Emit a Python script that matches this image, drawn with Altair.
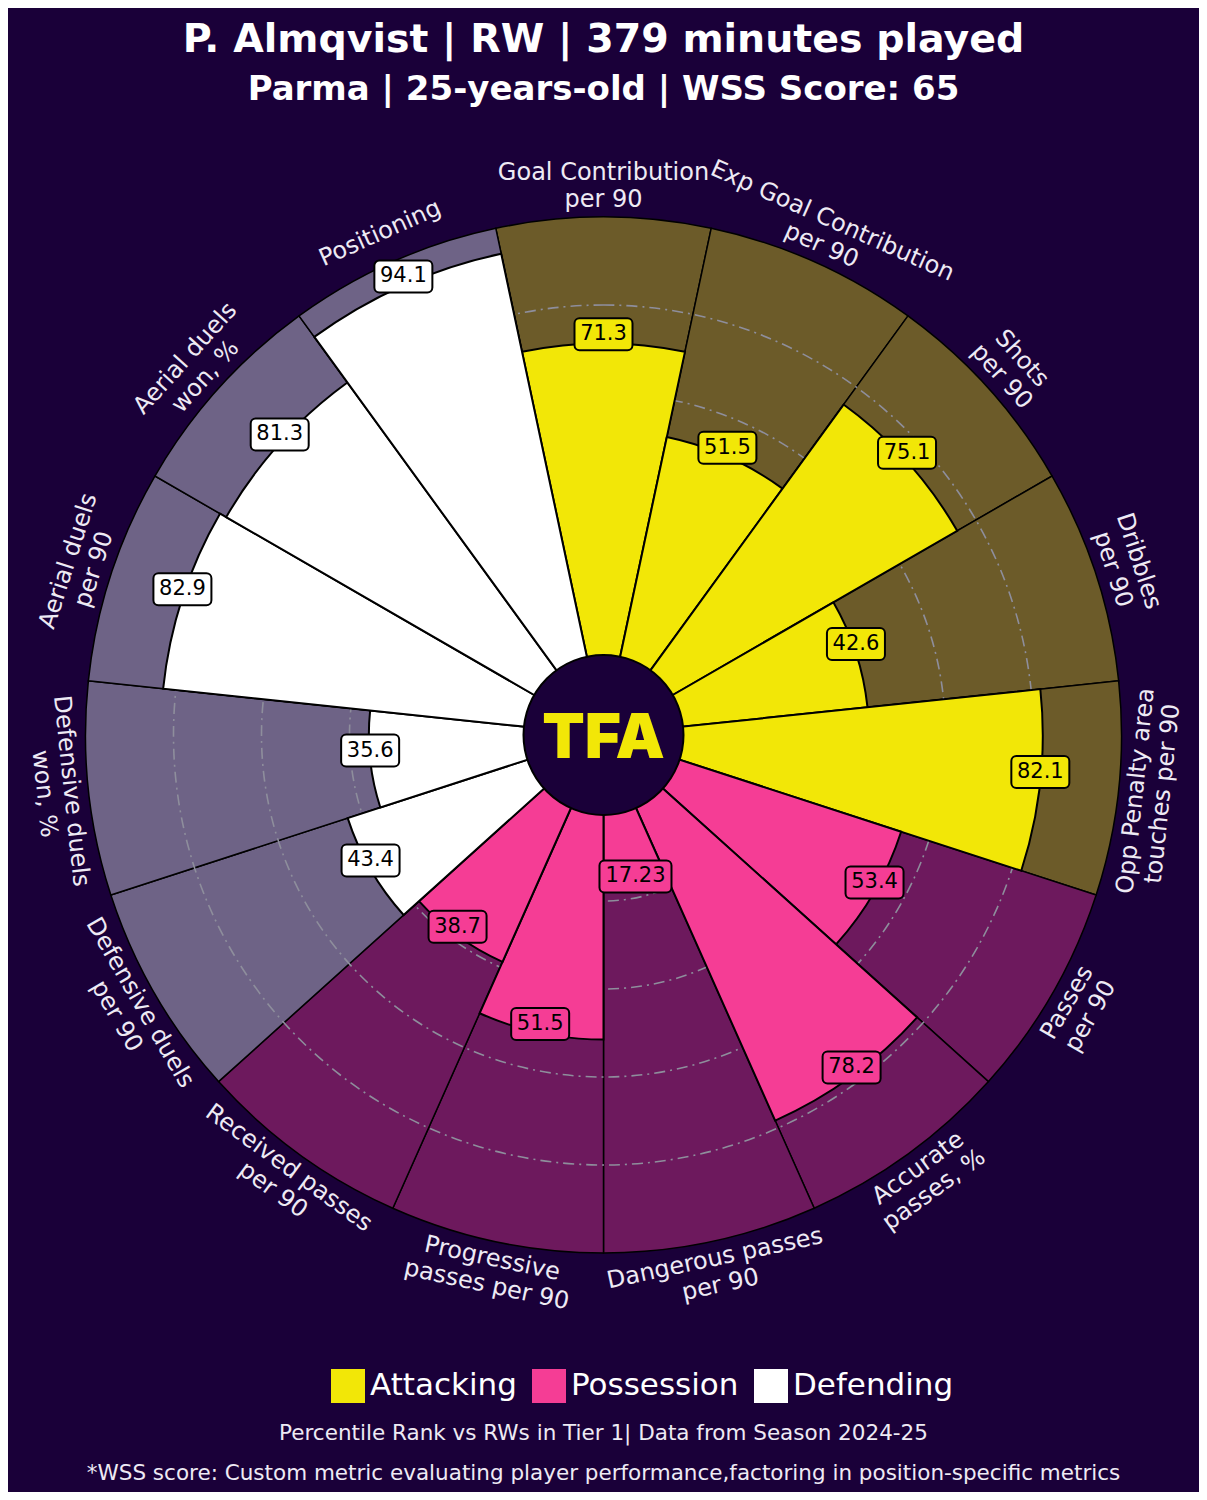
import math
import altair as alt
import pandas as pd

# ---------------- data ----------------
title_text = "P. Almqvist | RW | 379 minutes played"
subtitle_text = "Parma | 25-years-old | WSS Score: 65"
note1 = "Percentile Rank vs RWs in Tier 1| Data from Season 2024-25"
note2 = "*WSS score: Custom metric evaluating player performance,factoring in position-specific metrics"
logo_text = "TFA"

metrics = [
    "Goal Contribution\nper 90",
    "Exp Goal Contribution\nper 90",
    "Shots\nper 90",
    "Dribbles\nper 90",
    "Opp Penalty area\ntouches per 90",
    "Passes\nper 90",
    "Accurate\npasses, %",
    "Dangerous passes\nper 90",
    "Progressive\npasses per 90",
    "Received passes\nper 90",
    "Defensive duels\nper 90",
    "Defensive duels\nwon, %",
    "Aerial duels\nper 90",
    "Aerial duels\nwon, %",
    "Positioning",
]
values = [71.3, 51.5, 75.1, 42.6, 82.1, 53.4, 78.2, 17.23, 51.5, 38.7, 43.4, 35.6, 82.9, 81.3, 94.1]
groups = ["Attacking"] * 5 + ["Possession"] * 5 + ["Defending"] * 5
group_order = ["Attacking", "Possession", "Defending"]
grid_levels = [20, 40, 60, 80]

# ---------------- style ----------------
BG = "#1a0039"
main_colors = ["#f2e707", "#f53d95", "#ffffff"]
back_colors = ["#6c5b29", "#6d195d", "#6e6386"]
LBL = "#eeeaf4"
FONT = "DejaVu Sans"

W, H = 1191, 1484
CX, CY = W / 2, 727
R0, R1, RL, LH = 78, 518, 549, 27
N = len(metrics)

df = pd.DataFrame({"metric": metrics, "value": values, "group": groups, "idx": list(range(N))})

xs = alt.Scale(domain=[-CX, W - CX], nice=False, zero=False)
ys = alt.Scale(domain=[CY - H, CY], nice=False, zero=False)
ts = alt.Scale(domain=[0, N], range=[0, 2 * math.pi])
rs = alt.Scale(type="linear", domain=[0, 100], range=[R0, R1], zero=False, nice=False)

cx0 = alt.XDatum(0, scale=xs, axis=None)
cy0 = alt.YDatum(0, scale=ys, axis=None)

main_scale = alt.Scale(domain=group_order, range=main_colors)
# background scale listed in another order so that its (disabled) legend stays apart
back_scale = alt.Scale(domain=group_order[::-1], range=back_colors[::-1])
leg = alt.Legend(
    title=None, orient="none", legendX=323, legendY=1361, direction="horizontal",
    symbolType="square", symbolSize=1156, symbolStrokeWidth=0, symbolOpacity=1,
    labelFontSize=31, labelFont=FONT, labelColor="white", columnPadding=15,
    labelOffset=5, padding=0, labelLimit=0,
)

base = (
    alt.Chart(df)
    .transform_calculate(start="datum.idx - 0.5")
    .transform_calculate(end="datum.idx + 0.5")
    .transform_calculate(full="100")
    .transform_calculate(ang=f"datum.idx * 2 * PI / {N}")
    .transform_calculate(deg=f"datum.idx * 360 / {N}")
    .transform_calculate(r=f"{R0} + {R1 - R0} * datum.value / 100")
    .transform_calculate(flip="(datum.deg > 90 && datum.deg < 270) ? -1 : 1")
    .transform_calculate(rot="datum.flip < 0 ? datum.deg - 180 : datum.deg")
    .transform_calculate(rot2="(datum.rot + 360) % 360")
    .transform_calculate(nl="indexof(datum.metric, '\\n') >= 0 ? 1 : 0")
    .transform_calculate(rl=f"{RL} + datum.flip * datum.nl * {LH / 2}")
    .transform_calculate(txt="toString(datum.value)")
    .transform_calculate(lx="datum.r * sin(datum.ang)")
    .transform_calculate(ly="datum.r * cos(datum.ang) + 9")
    .transform_calculate(cxl="datum.rl * sin(datum.ang)")
    .transform_calculate(cyl="datum.rl * cos(datum.ang)")
    .transform_calculate(bw="14 * length(datum.txt) + 2")
    .transform_calculate(bx1="datum.lx - datum.bw / 2")
    .transform_calculate(bx2="datum.lx + datum.bw / 2")
    .transform_calculate(by1="datum.ly - 16")
    .transform_calculate(by2="datum.ly + 16")
)

theta_enc = alt.Theta("start:Q", scale=ts, stack=None)

bg = base.mark_arc(stroke="black", strokeWidth=1.5).encode(
    theta=theta_enc,
    theta2="end:Q",
    radius=alt.Radius("full:Q", scale=rs, stack=None),
    radius2=alt.datum(0),
    x=cx0, y=cy0,
    fill=alt.Fill("group:N", scale=back_scale, legend=None),
)

grid = alt.Chart(pd.DataFrame({"level": grid_levels})).mark_arc(
    filled=False, stroke="#8e8e9c", strokeWidth=1.6, strokeDash=[11, 5, 2, 5],
    theta=0, theta2=2 * math.pi,
).encode(radius=alt.Radius("level:Q", scale=rs, stack=None), x=cx0, y=cy0)

bars = base.mark_arc(stroke="black", strokeWidth=2).encode(
    theta=theta_enc,
    theta2="end:Q",
    radius=alt.Radius("value:Q", scale=rs, stack=None),
    radius2=alt.datum(0),
    x=cx0, y=cy0,
    color=alt.Color("group:N", scale=main_scale, legend=leg),
)

logo_df = pd.DataFrame({"t": [logo_text]})
logo = alt.Chart(logo_df).mark_arc(
    theta=0, theta2=2 * math.pi, radius=80, fill=BG, stroke="black", strokeWidth=2
).encode(x=cx0, y=cy0)
logo_txt = alt.Chart(logo_df).mark_text(
    fontSize=62, fontWeight=900, font="Inter", color=main_colors[0], baseline="alphabetic", dy=23
).encode(x=cx0, y=cy0, text="t:N")

cats = base.mark_text(
    lineBreak="\n", fontSize=24, font=FONT, color=LBL, align="center", baseline="middle",
    lineHeight=LH,
).encode(
    x=alt.X("cxl:Q", scale=xs, axis=None),
    y=alt.Y("cyl:Q", scale=ys, axis=None),
    text="metric:N",
    angle=alt.Angle("rot2:Q", scale=None),
)

boxes = base.mark_rect(cornerRadius=5, stroke="black", strokeWidth=2).encode(
    x=alt.X("bx1:Q", scale=xs, axis=None), x2="bx2:Q",
    y=alt.Y("by1:Q", scale=ys, axis=None), y2="by2:Q",
    color=alt.Color("group:N", scale=main_scale, legend=leg),
)

vals = base.mark_text(fontSize=21, font=FONT, color="black", baseline="middle").encode(
    x=alt.X("lx:Q", scale=xs, axis=None),
    y=alt.Y("ly:Q", scale=ys, axis=None),
    text="txt:N",
)


def line(txt, size, y, weight="normal", color="white"):
    return alt.Chart(pd.DataFrame({"t": [txt]})).mark_text(
        fontSize=size, fontWeight=weight, font=FONT, color=color, baseline="alphabetic"
    ).encode(x=alt.value(CX), y=alt.value(y), text="t:N")


t1 = line(title_text, 39.5, 44, "bold")
t2 = line(subtitle_text, 34, 92, "bold")
n1 = line(note1, 21.5, 1432, color=LBL)
n2 = line(note2, 21.5, 1472, color=LBL)

chart = alt.layer(bg, grid, bars, logo, logo_txt, cats, boxes, vals, t1, t2, n1, n2).properties(
    width=W, height=H, background=BG, padding=0,
    autosize=alt.AutoSizeParams(type="none"),
).configure_view(stroke=None)

chart.save("out.html", embed_options={"renderer": "svg", "actions": False})
